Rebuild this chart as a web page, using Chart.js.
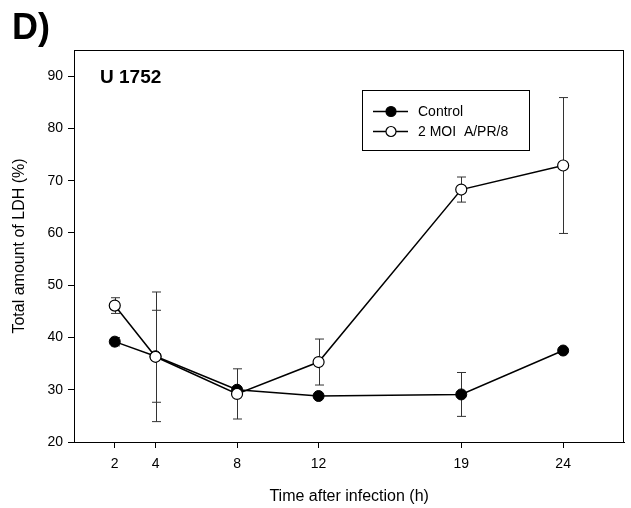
<!DOCTYPE html>
<html>
<head>
<meta charset="utf-8">
<script src="https://cdn.jsdelivr.net/npm/chart.js@4/dist/chart.umd.min.js"></script>
<style>
  html, body { margin: 0; padding: 0; background: #fff; }
  #wrap { width: 631px; height: 508px; }
</style>
</head>
<body>
<div id="wrap"><canvas id="chart" width="631" height="508"></canvas></div>
<script>
// values
const hours = [2, 4, 8, 12, 19, 24];
const yTicks = [20, 30, 40, 50, 60, 70, 80, 90];
const controlMean = [39.2, 36.4, 30.0, 28.8, 29.1, 37.5];
const controlErr = [0.8, 8.8, 0, 0, 4.2, 0];
const moiMean = [46.1, 36.3, 29.2, 35.3, 68.3, 72.9];
const moiErr = [1.5, 12.4, 4.8, 4.4, 2.4, 13.0];

const FONT = "'Liberation Sans', Arial, sans-serif";

function pts(means) {
  return hours.map((h, i) => ({ x: h, y: means[i] }));
}

// error bars, under the markers
const errorBars = {
  id: 'errorBars',
  beforeDatasetsDraw(chart) {
    const ctx = chart.ctx;
    const xs = chart.scales.x, ys = chart.scales.y;
    const sets = [[controlMean, controlErr], [moiMean, moiErr]];
    ctx.save();
    ctx.strokeStyle = '#333';
    ctx.lineWidth = 1;
    sets.forEach(([m, e]) => {
      hours.forEach((h, i) => {
        if (!e[i]) return;
        const px = Math.round(xs.getPixelForValue(h)) + 0.5;
        const top = ys.getPixelForValue(m[i] + e[i]);
        const bot = ys.getPixelForValue(m[i] - e[i]);
        ctx.beginPath();
        ctx.moveTo(px, top); ctx.lineTo(px, bot);
        ctx.moveTo(px - 4.5, top); ctx.lineTo(px + 4.5, top);
        ctx.moveTo(px - 4.5, bot); ctx.lineTo(px + 4.5, bot);
        ctx.stroke();
      });
    });
    ctx.restore();
  }
};

// frame, panel letter, cell line label and legend
const decor = {
  id: 'decor',
  afterDraw(chart) {
    const ctx = chart.ctx;
    const a = chart.chartArea;
    ctx.save();
    ctx.strokeStyle = '#000';
    ctx.lineWidth = 1;
    ctx.strokeRect(Math.round(a.left) + 0.5, Math.round(a.top) + 0.5,
      Math.round(a.right - a.left) - 1, Math.round(a.bottom - a.top));

    ctx.fillStyle = '#000';
    ctx.textBaseline = 'alphabetic';
    ctx.font = 'bold 36px ' + FONT;
    ctx.fillText('D)', 12, 39);
    ctx.font = 'bold 19px ' + FONT;
    ctx.fillText('U 1752', 100, 83);

    // legend
    ctx.textBaseline = 'middle';
    ctx.strokeRect(362.5, 90.5, 167, 60);
    chart.data.datasets.slice().reverse().forEach((ds, i) => {
      const y = 111.5 + i * 20;
      ctx.beginPath();
      ctx.moveTo(373, y); ctx.lineTo(408, y);
      ctx.lineWidth = 1.5;
      ctx.stroke();
      ctx.beginPath();
      ctx.arc(391, y, 5, 0, Math.PI * 2);
      ctx.fillStyle = ds.pointBackgroundColor;
      ctx.fill();
      ctx.lineWidth = 1.2;
      ctx.stroke();
      ctx.fillStyle = '#000';
      ctx.font = '14px ' + FONT;
      ctx.fillText(ds.label, 418, y + 1);
    });
    ctx.restore();
  }
};

new Chart(document.getElementById('chart'), {
  type: 'line',
  data: {
    datasets: [
      {
        label: '2 MOI  A/PR/8',
        data: pts(moiMean),
        borderColor: '#000',
        borderWidth: 1.5,
        pointBackgroundColor: '#fff',
        pointBorderColor: '#000',
        pointBorderWidth: 1.2,
        pointRadius: 5.5,
        order: 0
      },
      {
        label: 'Control',
        data: pts(controlMean),
        borderColor: '#000',
        borderWidth: 1.5,
        pointBackgroundColor: '#000',
        pointBorderColor: '#000',
        pointBorderWidth: 1,
        pointRadius: 5.5,
        order: 1
      }
    ]
  },
  options: {
    responsive: false,
    animation: false,
    layout: { padding: { top: 50, right: 0, left: 0, bottom: 0 } },
    plugins: { legend: { display: false }, tooltip: { enabled: false } },
    scales: {
      x: {
        type: 'linear',
        min: 0,
        max: 27,
        afterBuildTicks: s => { s.ticks = hours.map(v => ({ value: v })); },
        afterFit: s => { s.height = 66; },
        grid: { drawOnChartArea: false, tickLength: 6, color: '#000' },
        border: { color: '#000' },
        ticks: { color: '#000', font: { family: FONT, size: 14 }, padding: 8 },
        title: {
          display: true,
          text: 'Time after infection (h)',
          color: '#000',
          font: { family: FONT, size: 16 },
          padding: { top: 0, bottom: 2 }
        }
      },
      y: {
        min: 20,
        max: 95,
        afterBuildTicks: s => { s.ticks = yTicks.map(v => ({ value: v })); },
        afterFit: s => { s.width = 74; },
        grid: { drawOnChartArea: false, tickLength: 6, color: '#000' },
        border: { color: '#000' },
        ticks: { color: '#000', font: { family: FONT, size: 14 }, padding: 5 },
        title: {
          display: true,
          text: 'Total amount of LDH (%)',
          color: '#000',
          font: { family: FONT, size: 16 },
          padding: { top: 10, bottom: 4 }
        }
      }
    }
  },
  plugins: [errorBars, decor]
});
</script>
</body>
</html>
